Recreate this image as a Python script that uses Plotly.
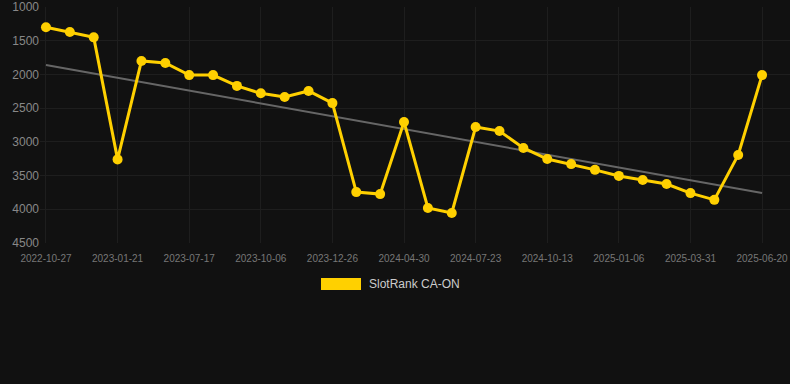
import plotly.graph_objects as go

# Data
rank_values = [1300, 1370, 1450, 3260, 1800, 1830, 2010, 2010, 2170, 2280,
               2335, 2245, 2425, 3745, 3775, 2705, 3980, 4055, 2780, 2840,
               3090, 3255, 3330, 3415, 3505, 3565, 3625, 3760, 3860, 3195, 2010]
tick_labels = ["2022-10-27", "2023-01-21", "2023-07-17", "2023-10-06", "2023-12-26",
               "2024-04-30", "2024-07-23", "2024-10-13", "2025-01-06", "2025-03-31",
               "2025-06-20"]
tick_step = 3
trend_values = [1860, 3760]
series_name = "SlotRank CA-ON"

n = len(rank_values)
x_idx = list(range(n))
tick_positions = [i * tick_step for i in range(len(tick_labels))]

GOLD = "#FFD000"
GRID = "#1e1e1e"
fig = go.Figure()
fig.add_trace(go.Scatter(
    x=[0, n - 1], y=trend_values, mode="lines",
    line=dict(color="#666666", width=2), showlegend=False, hoverinfo="skip"))
fig.add_trace(go.Scatter(
    x=x_idx, y=rank_values, mode="lines+markers", name=series_name,
    line=dict(color=GOLD, width=3), marker=dict(color=GOLD, size=10),
    showlegend=False))

# legend drawn manually (rectangular swatch)
fig.add_shape(type="rect", xref="paper", yref="paper",
              x0=(321 - 40) / 750, x1=(361 - 40) / 750,
              y0=(243 - 290) / 236, y1=(243 - 278) / 236,
              fillcolor=GOLD, line=dict(width=0))
fig.add_annotation(xref="paper", yref="paper", x=(367 - 40) / 750, y=(243 - 284) / 236,
                   text=series_name, showarrow=False, xanchor="left", yanchor="middle",
                   font=dict(family="Liberation Sans, Arial, sans-serif", size=12, color="#cccccc"))

fig.update_layout(
    width=790, height=384,
    paper_bgcolor="#111111", plot_bgcolor="#111111",
    margin=dict(l=40, r=0, t=7, b=141, autoexpand=False),
    font=dict(family="Liberation Sans, Arial, sans-serif"),
    xaxis=dict(range=[-0.25, 31.17], tickvals=tick_positions, ticktext=tick_labels,
               showgrid=True, gridcolor=GRID, zeroline=False, showline=False,
               tickfont=dict(size=10, color="#777777"), ticks="outside", ticklen=6,
               tickcolor="rgba(0,0,0,0)", automargin=False),
    yaxis=dict(range=[4500, 1000], tickvals=[1000, 1500, 2000, 2500, 3000, 3500, 4000, 4500],
               showgrid=True, gridcolor=GRID, zeroline=False, showline=False,
               tickfont=dict(size=12, color="#888888"), ticks="", automargin=False),
)
fig.write_html("out.html", config={"displayModeBar": False},
               post_script="document.body.style.margin='0';document.body.style.background='#111111';")
